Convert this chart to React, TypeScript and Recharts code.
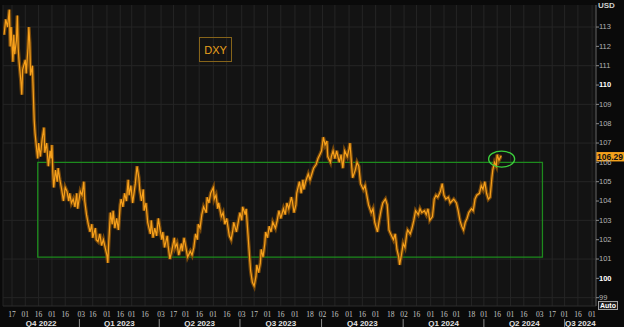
import React from 'react';
import {
  ComposedChart,
  Line,
  XAxis,
  YAxis,
  CartesianGrid,
  ReferenceArea,
  ReferenceDot,
  ReferenceLine,
} from 'recharts';

// ---------- data ----------
const dates = [
  '2022-10-08','2022-10-10','2022-10-12','2022-10-14','2022-10-15','2022-10-16','2022-10-18','2022-10-19','2022-10-20','2022-10-22',
  '2022-10-23','2022-10-24','2022-10-25','2022-10-27','2022-10-28','2022-10-29','2022-11-01','2022-11-02','2022-11-04','2022-11-05',
  '2022-11-06','2022-11-07','2022-11-09','2022-11-10','2022-11-11','2022-11-12','2022-11-14','2022-11-15','2022-11-16','2022-11-18',
  '2022-11-20','2022-11-22','2022-11-23','2022-11-25','2022-11-27','2022-11-29','2022-11-30','2022-12-01','2022-12-02','2022-12-03',
  '2022-12-05','2022-12-07','2022-12-08','2022-12-10','2022-12-12','2022-12-14','2022-12-16','2022-12-18','2022-12-20','2022-12-21',
  '2022-12-23','2022-12-25','2022-12-27','2022-12-29','2022-12-30','2023-01-02','2023-01-04','2023-01-06','2023-01-07','2023-01-09',
  '2023-01-11','2023-01-13','2023-01-15','2023-01-16','2023-01-19','2023-01-20','2023-01-22','2023-01-24','2023-01-26','2023-01-28',
  '2023-01-30','2023-02-01','2023-02-02','2023-02-03','2023-02-05','2023-02-07','2023-02-08','2023-02-10','2023-02-12','2023-02-14',
  '2023-02-16','2023-02-17','2023-02-19','2023-02-21','2023-02-23','2023-02-25','2023-02-26','2023-02-28','2023-03-02','2023-03-05',
  '2023-03-07','2023-03-09','2023-03-10','2023-03-12','2023-03-14','2023-03-15','2023-03-17','2023-03-19','2023-03-22','2023-03-23',
  '2023-03-25','2023-03-27','2023-03-29','2023-03-31','2023-04-02','2023-04-04','2023-04-05','2023-04-07','2023-04-10','2023-04-11',
  '2023-04-13','2023-04-15','2023-04-18','2023-04-19','2023-04-21','2023-04-23','2023-04-26','2023-04-27','2023-04-29','2023-05-01',
  '2023-05-03','2023-05-06','2023-05-08','2023-05-10','2023-05-12','2023-05-14','2023-05-15','2023-05-17','2023-05-19','2023-05-21',
  '2023-05-24','2023-05-25','2023-05-27','2023-05-29','2023-06-01','2023-06-02','2023-06-04','2023-06-06','2023-06-07','2023-06-10',
  '2023-06-12','2023-06-14','2023-06-16','2023-06-19','2023-06-21','2023-06-23','2023-06-24','2023-06-27','2023-06-29','2023-07-01',
  '2023-07-03','2023-07-04','2023-07-07','2023-07-08','2023-07-10','2023-07-12','2023-07-13','2023-07-15','2023-07-17','2023-07-19',
  '2023-07-20','2023-07-22','2023-07-24','2023-07-25','2023-07-27','2023-07-29','2023-07-30','2023-08-01','2023-08-03','2023-08-05',
  '2023-08-07','2023-08-10','2023-08-12','2023-08-14','2023-08-16','2023-08-19','2023-08-21','2023-08-23','2023-08-25','2023-08-28',
  '2023-08-29','2023-08-31','2023-09-02','2023-09-03','2023-09-06','2023-09-08','2023-09-10','2023-09-11','2023-09-13','2023-09-16',
  '2023-09-18','2023-09-20','2023-09-22','2023-09-25','2023-09-27','2023-09-29','2023-10-01','2023-10-03','2023-10-05','2023-10-07',
  '2023-10-08','2023-10-11','2023-10-12','2023-10-14','2023-10-16','2023-10-18','2023-10-21','2023-10-23','2023-10-25','2023-10-27',
  '2023-10-30','2023-11-01','2023-11-02','2023-11-04','2023-11-05','2023-11-08','2023-11-10','2023-11-12','2023-11-14','2023-11-17',
  '2023-11-19','2023-11-21','2023-11-23','2023-11-26','2023-11-28','2023-11-30','2023-12-03','2023-12-05','2023-12-07','2023-12-09',
  '2023-12-12','2023-12-14','2023-12-16','2023-12-18','2023-12-21','2023-12-23','2023-12-25','2023-12-27','2023-12-28','2023-12-30',
  '2024-01-01','2024-01-03','2024-01-05','2024-01-06','2024-01-09','2024-01-11','2024-01-13','2024-01-15','2024-01-18','2024-01-20',
  '2024-01-22','2024-01-25','2024-01-27','2024-01-29','2024-01-31','2024-02-03','2024-02-05','2024-02-07','2024-02-09','2024-02-12',
  '2024-02-14','2024-02-16','2024-02-18','2024-02-21','2024-02-23','2024-02-25','2024-02-27','2024-03-01','2024-03-03','2024-03-05',
  '2024-03-07','2024-03-09','2024-03-11','2024-03-13','2024-03-15','2024-03-18','2024-03-20','2024-03-22','2024-03-24','2024-03-27',
  '2024-03-29','2024-03-31','2024-04-02','2024-04-04','2024-04-06','2024-04-08','2024-04-10','2024-04-11','2024-04-13','2024-04-15',
  '2024-04-16','2024-04-18','2024-04-20','2024-04-21',
];

const dxy = [
  112.6, 113.4, 113.0, 113.9, 112.0, 113.0, 111.2, 112.6, 111.6, 112.3,
  113.6, 111.9, 111.2, 110.2, 109.5, 110.8, 111.3, 110.6, 111.9, 113.0,
  112.2, 110.5, 111.0, 109.6, 108.2, 107.5, 106.6, 106.2, 107.0, 106.3,
  107.2, 107.8, 106.5, 107.0, 105.8, 106.6, 106.2, 106.9, 105.5, 104.7,
  105.6, 105.0, 105.7, 105.1, 104.6, 104.0, 104.7, 104.5, 104.0, 104.4,
  103.9, 104.1, 103.7, 104.4, 103.6, 104.5, 104.3, 105.0, 104.0, 103.3,
  102.8, 102.4, 102.8, 102.1, 102.6, 102.0, 101.9, 102.3, 101.7, 102.0,
  101.6, 101.2, 100.8, 101.8, 103.4, 102.8, 103.5, 102.6, 103.1, 102.5,
  103.8, 104.1, 103.7, 104.4, 104.0, 105.1, 104.3, 104.8, 103.9, 104.9,
  105.8, 105.2, 104.6, 104.0, 104.6, 103.5, 103.9, 102.9, 102.3, 103.0,
  102.1, 102.6, 102.2, 103.1, 102.5, 102.0, 102.4, 101.6, 102.2, 101.7,
  101.0, 101.4, 102.1, 101.6, 101.8, 101.2, 101.8, 101.4, 102.1, 101.6,
  101.1, 101.4, 101.2, 101.6, 102.3, 102.0, 102.8, 102.6, 103.3, 103.7,
  103.4, 104.2, 103.9, 104.4, 104.7, 104.1, 104.3, 103.6, 103.9, 103.2,
  103.4, 102.8, 103.1, 102.2, 102.0, 102.5, 102.9, 102.4, 102.9, 103.4,
  103.0, 103.7, 103.3, 103.6, 102.3, 101.0, 100.4, 99.8, 99.6, 100.1,
  100.7, 100.3, 100.8, 101.5, 101.1, 101.8, 102.4, 102.1, 102.7, 102.4,
  102.9, 102.6, 103.0, 103.5, 103.1, 103.6, 103.3, 103.9, 103.6, 104.2,
  104.0, 103.4, 103.8, 104.4, 105.0, 104.4, 105.1, 104.6, 105.0, 105.4,
  105.1, 105.4, 105.7, 105.9, 106.2, 106.4, 106.6, 107.3, 106.9, 107.1,
  106.3, 106.0, 106.3, 106.6, 106.2, 106.6, 106.0, 106.4, 105.7, 106.6,
  106.3, 106.7, 107.0, 105.8, 105.2, 105.6, 106.0, 105.8, 104.9, 104.6,
  104.8, 104.3, 103.8, 103.4, 103.6, 102.9, 102.4, 103.0, 103.5, 103.9,
  104.1, 103.8, 102.5, 102.3, 102.0, 102.3, 101.5, 101.1, 100.7, 101.2,
  101.8, 101.6, 102.3, 102.5, 102.3, 102.6, 103.0, 103.5, 103.3, 103.6,
  103.4, 103.5, 103.3, 103.6, 103.0, 103.2, 104.1, 104.3, 104.2, 104.5,
  104.9, 104.3, 104.1, 104.2, 103.9, 104.0, 104.1, 103.9, 103.5, 103.0,
  102.7, 102.5, 102.9, 103.1, 103.4, 103.6, 103.5, 104.1, 104.3, 104.4,
  104.8, 104.6, 105.0, 104.4, 104.1, 104.2, 105.2, 105.6, 106.0, 105.8,
  106.4, 106.1, 106.3, 106.29,
];

const dayTicks = [
  '2022-10-17','2022-11-01','2022-11-16','2022-12-01','2022-12-16','2023-01-03','2023-01-16','2023-02-01','2023-02-16',
  '2023-03-01','2023-03-16','2023-04-03','2023-04-17','2023-05-01','2023-05-16','2023-06-01','2023-06-16','2023-07-03',
  '2023-07-17','2023-08-01','2023-08-16','2023-09-01','2023-09-18','2023-10-02','2023-10-16','2023-11-01','2023-11-16',
  '2023-12-01','2023-12-18','2024-01-02','2024-01-16','2024-02-01','2024-02-16','2024-03-01','2024-03-18','2024-04-01',
  '2024-04-16','2024-05-01','2024-05-16','2024-06-03','2024-06-17','2024-07-01','2024-07-16','2024-08-01',
];

const quarterLabels = ['Q4 2022', 'Q1 2023', 'Q2 2023', 'Q3 2023', 'Q4 2023', 'Q1 2024', 'Q2 2024', 'Q3 2024'];
const quarterStarts = [
  '2022-10-01', '2023-01-01', '2023-04-01', '2023-07-01', '2023-10-01', '2024-01-01', '2024-04-01', '2024-07-01', '2024-10-01',
];

const priceTicks = [99, 100, 101, 102, 103, 104, 105, 106, 107, 108, 109, 110, 111, 112, 113];
const boldTicks = [100, 110];
const gridValues = [99, 101, 103, 105, 107, 109, 111, 113];

const rangeBox = { start: '2022-11-15', end: '2024-06-06', low: 101.1, high: 106.0 };
const highlight = { date: '2024-04-21', value: 106.17 };
const lastPrice = 106.29;
const seriesName = 'DXY';
const currency = 'USD';

// ---------- layout ----------
const W = 624;
const H = 327;
const MARGIN = { top: 5, right: 0, bottom: 0, left: 3 };
const Y_AXIS_W = 28;
const DAY_AXIS_H = 12;
const Q_AXIS_H = 9;
const PLOT_W = W - MARGIN.left - MARGIN.right - Y_AXIS_W;

const DAY = 86400000;
const toT = (s: string) => Date.parse(s + 'T00:00:00Z');
const ORIGIN = toT('2022-10-01');
const X_DOMAIN: [number, number] = [ORIGIN + 5.85 * DAY, ORIGIN + 674.4 * DAY];
const Y_DOMAIN: [number, number] = [98.57, 114.14];
const PX_PER_MS = PLOT_W / (X_DOMAIN[1] - X_DOMAIN[0]);

const data = dates.map((d, i) => ({ t: toT(d), v: dxy[i] }));

const quarters = quarterLabels.map((label, i) => {
  const s = toT(quarterStarts[i]);
  const e = toT(quarterStarts[i + 1]);
  const a = Math.max(s, X_DOMAIN[0]);
  const b = Math.min(e, X_DOMAIN[1]);
  return { label, start: s, mid: (a + b) / 2, showSep: s > X_DOMAIN[0] };
});

const SANS = "'Liberation Sans', Arial, sans-serif";
const SERIF = "'Liberation Serif', 'Times New Roman', serif";

const DayTick = (props: any) => {
  const { x, y, payload } = props;
  const d = new Date(payload.value).getUTCDate();
  return (
    <text x={x} y={y + 10.5} textAnchor="middle" fill="#c4c4c4" fontSize={7.5} fontFamily={SERIF}>
      {String(d).padStart(2, '0')}
    </text>
  );
};

const QuarterTick = (props: any) => {
  const { x, y, payload } = props;
  let q = quarters[0];
  let best = Infinity;
  quarters.forEach((qq) => {
    const dd = Math.abs(qq.mid - payload.value);
    if (dd < best) {
      best = dd;
      q = qq;
    }
  });
  const sepX = x - (q.mid - q.start) * PX_PER_MS;
  return (
    <g>
      {q.showSep && <line x1={sepX} x2={sepX} y1={y + 1} y2={y + 10} stroke="#8c8c8c" strokeWidth={1} />}
      <text x={x} y={y + 8.3} textAnchor="middle" fill="#e2e2e2" fontSize={8} fontWeight="bold" fontFamily={SANS}>
        {q.label}
      </text>
    </g>
  );
};

const PriceTick = (props: any) => {
  const { x, y, payload } = props;
  const bold = boldTicks.includes(payload.value);
  return (
    <text
      x={x}
      y={y + 2.3}
      textAnchor="start"
      fill={bold ? '#ffffff' : '#b4b4b4'}
      fontSize={7.5}
      fontWeight={bold ? 'bold' : 'normal'}
      fontFamily={SANS}
    >
      {payload.value}
    </text>
  );
};

const PriceTag = (props: any) => {
  const vb = props.viewBox || {};
  const x = (vb.x ?? 0) + (vb.width ?? 0);
  const y = vb.y ?? 0;
  return (
    <g>
      <rect x={x} y={y - 4.7} width={30} height={9.4} fill="#f5a21c" />
      <text x={x + 1} y={y + 3} fill="#111" fontSize={8.5} fontWeight="bold" fontFamily={SANS}>
        {lastPrice.toFixed(2)}
      </text>
    </g>
  );
};

const Ellipse = (props: any) => (
  <ellipse cx={props.cx} cy={props.cy} rx={13} ry={8} fill="none" stroke="#3ccf3c" strokeWidth={1.4} />
);

export default function App() {
  return (
    <div style={{ position: 'absolute', left: 0, top: 0, width: W, height: H, background: '#0a0a0a', overflow: 'hidden' }}>
      <ComposedChart width={W} height={H} data={data} margin={MARGIN}>
        <CartesianGrid
          xAxisId="d"
          yAxisId="p"
          fill="#131313"
          stroke="#252525"
          horizontalValues={gridValues}
        />
        <XAxis
          xAxisId="d"
          dataKey="t"
          type="number"
          domain={X_DOMAIN}
          allowDataOverflow
          ticks={dayTicks.map(toT)}
          interval={0}
          tick={<DayTick />}
          tickLine={false}
          tickSize={0}
          tickMargin={0}
          axisLine={{ stroke: '#2c2c2c' }}
          height={DAY_AXIS_H}
        />
        <XAxis
          xAxisId="q"
          dataKey="t"
          type="number"
          domain={X_DOMAIN}
          allowDataOverflow
          ticks={quarters.map((q) => q.mid)}
          interval={0}
          tick={<QuarterTick />}
          tickLine={false}
          tickSize={0}
          tickMargin={0}
          axisLine={false}
          height={Q_AXIS_H}
        />
        <YAxis
          yAxisId="p"
          orientation="right"
          type="number"
          domain={Y_DOMAIN}
          allowDataOverflow
          ticks={priceTicks}
          interval={0}
          width={Y_AXIS_W}
          tick={<PriceTick />}
          tickSize={3}
          tickMargin={0}
          tickLine={{ stroke: '#8a8a8a' }}
          axisLine={{ stroke: '#5a5a5a' }}
        />
        <ReferenceArea
          xAxisId="d"
          yAxisId="p"
          x1={toT(rangeBox.start)}
          x2={toT(rangeBox.end)}
          y1={rangeBox.low}
          y2={rangeBox.high}
          fill="none"
          fillOpacity={0}
          stroke="#1d8a1d"
          strokeWidth={1.3}
        />
        <Line
          xAxisId="d"
          yAxisId="p"
          dataKey="v"
          type="linear"
          stroke="#7e4c0a"
          strokeWidth={3.6}
          strokeOpacity={0.9}
          dot={false}
          activeDot={false}
          isAnimationActive={false}
        />
        <Line
          xAxisId="d"
          yAxisId="p"
          dataKey="v"
          name={seriesName}
          type="linear"
          stroke="#f7a11c"
          strokeWidth={1.2}
          dot={false}
          activeDot={false}
          isAnimationActive={false}
        />
        <ReferenceDot
          xAxisId="d"
          yAxisId="p"
          x={toT(highlight.date)}
          y={highlight.value}
          r={8}
          shape={<Ellipse />}
        />
        <ReferenceLine yAxisId="p" xAxisId="d" y={lastPrice} stroke="none" strokeOpacity={0} label={PriceTag} />
      </ComposedChart>
      <div
        style={{
          position: 'absolute',
          left: 199,
          top: 37,
          width: 31,
          height: 23,
          border: '1px solid #86641a',
          color: '#eaa11e',
          fontFamily: SANS,
          fontSize: 11,
          display: 'flex',
          alignItems: 'center',
          justifyContent: 'center',
        }}
      >
        {seriesName}
      </div>
      <svg width={W} height={H} style={{ position: 'absolute', left: 0, top: 0, pointerEvents: 'none' }}>
        <text x={598} y={7.5} fill="#cfcfcf" fontSize={8} fontWeight="bold" fontFamily={SANS}>
          {currency}
        </text>
        <rect x={598.5} y={301.5} width={19} height={8} fill="#1a1a1a" stroke="#a0a0a0" strokeWidth={1} />
        <text x={600} y={308.3} fill="#ffffff" fontSize={7} fontWeight="bold" fontFamily={SANS}>
          Auto
        </text>
      </svg>
    </div>
  );
}
